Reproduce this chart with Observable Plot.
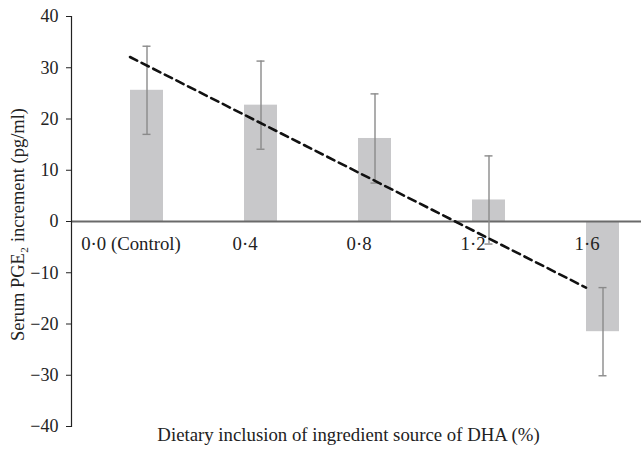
<!DOCTYPE html>
<html>
<head>
<meta charset="utf-8">
<script src="https://cdn.jsdelivr.net/npm/d3@7"></script>
<script src="https://cdn.jsdelivr.net/npm/@observablehq/plot@0.6"></script>
<style>
  html, body { margin: 0; padding: 0; background: #fff; }
  svg { display: block; }
  svg, svg text { font-family: "Liberation Serif", "Times New Roman", serif !important; }
</style>
</head>
<body>
<div id="chart"></div>
<script>
const categories = ["0·0 (Control)", "0·4", "0·8", "1·2", "1·6"];
const means = [25.6, 22.7, 16.2, 4.2, -21.5];
const errors = [8.6, 8.6, 8.7, 8.6, 8.6];
const trendCategories = ["0·0 (Control)", "1·6"];
const trendValues = [32.1, -12.9];
const yTicks = [-40, -30, -20, -10, 0, 10, 20, 30, 40];
const yTitle = "Serum PGE\u2082 increment (pg/ml)";
const xTitle = "Dietary inclusion of ingredient source of DHA (%)";

const data = categories.map((c, i) => ({cat: c, mean: means[i], lo: means[i] - errors[i], hi: means[i] + errors[i]}));
const trend = trendCategories.map((c, i) => ({cat: c, v: trendValues[i]}));

const font = "'Liberation Serif', 'Times New Roman', serif";

const chart = Plot.plot({
  width: 641,
  height: 454,
  marginLeft: 71,
  marginRight: 0,
  marginTop: 16,
  marginBottom: 28,
  style: {fontFamily: font, fontSize: "18px", color: "#222", background: "#fff"},
  x: {domain: categories, range: [128.5, 620.6], paddingInner: 0.712, paddingOuter: 0, axis: null},
  y: {domain: [-40, 40]},
  marks: [
    Plot.barY(data, {x: "cat", y: "mean", fill: "#c8c8ca"}),
    Plot.ruleY([0], {stroke: "#6a6a6a", strokeWidth: 1.8}),
    Plot.ruleX(data, {x: "cat", y1: "lo", y2: "hi", stroke: "#8a8a8a", strokeWidth: 1.4}),
    Plot.tickY(data, {x: "cat", y: "lo", stroke: "#8a8a8a", strokeWidth: 1.4, insetLeft: 12.5, insetRight: 12.5}),
    Plot.tickY(data, {x: "cat", y: "hi", stroke: "#8a8a8a", strokeWidth: 1.4, insetLeft: 12.5, insetRight: 12.5}),
    Plot.line(trend, {x: "cat", y: "v", dx: -17, stroke: "#111", strokeWidth: 2.6, strokeDasharray: "8,5"}),
    Plot.text(data, {x: "cat", y: () => 0, text: "cat", dx: -16, dy: 22, fontSize: 18.8, fontFamily: font, fill: "#222"}),
    Plot.axisY({ticks: yTicks, tickSize: 5, tickPadding: 8, label: null, fontSize: 18, fontFamily: font, stroke: "#222", fill: "#222"}),
    Plot.frame({anchor: "left", stroke: "#222", strokeWidth: 1.2}),
    Plot.text([yTitle], {frameAnchor: "left", textAnchor: "middle", rotate: -90, dx: -53, dy: 3, fontSize: 18.5, fontFamily: font, fill: "#222"}),
    Plot.text([xTitle], {frameAnchor: "bottom", textAnchor: "middle", dy: 14, dx: -8, fontSize: 18.8, fontFamily: font, fill: "#222"})
  ]
});
document.getElementById("chart").appendChild(chart);
</script>
</body>
</html>
